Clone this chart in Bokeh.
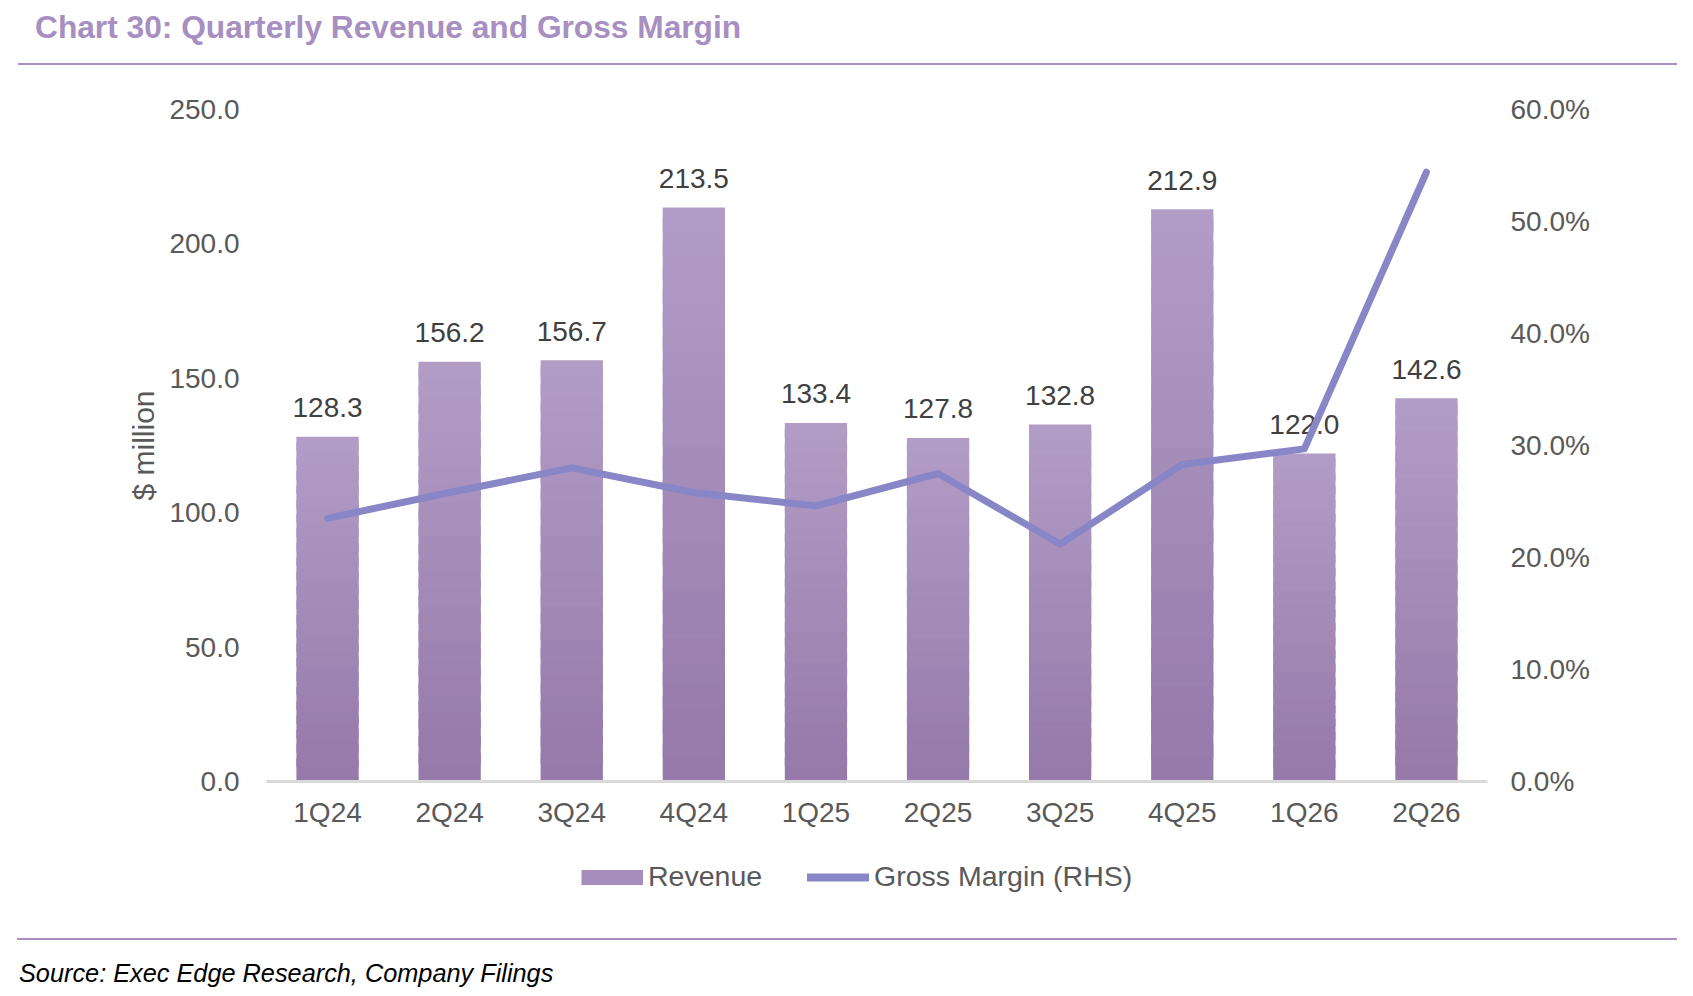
from bokeh.plotting import figure
from bokeh.models import (Range1d, LinearAxis, FixedTicker, PrintfTickFormatter,
                          NumeralTickFormatter, ColumnDataSource, Legend, LegendItem, Div)
from bokeh.layouts import column
from bokeh.core.properties import value
from bokeh.embed import file_html
from bokeh.resources import INLINE

# ---------------- data ----------------
categories = ["1Q24", "2Q24", "3Q24", "4Q24", "1Q25", "2Q25", "3Q25", "4Q25", "1Q26", "2Q26"]
revenue = [128.3, 156.2, 156.7, 213.5, 133.4, 127.8, 132.8, 212.9, 122.0, 142.6]
gross_margin = [23.5, 25.8, 28.0, 25.8, 24.6, 27.5, 21.2, 28.3, 29.7, 54.4]
revenue_ticks = [0, 50, 100, 150, 200, 250]
margin_ticks = [0, 10, 20, 30, 40, 50, 60]
series_names = ["Revenue", "Gross Margin (RHS)"]

title_text = "Chart 30: Quarterly Revenue and Gross Margin"
source_text = "Source: Exec Edge Research, Company Filings"

FONT = "Liberation Sans"
PURPLE = "#a78fc1"
LINE_COLOR = "#8886c7"
TICK_COLOR = "#595959"
LABEL_COLOR = "#404040"
BAR_MID = "#a68dbc"
TOP_RGB = (0xb2, 0x9d, 0xc6)
BOT_RGB = (0x95, 0x79, 0xa9)

W = 1677
HEADER_H = 65
FIG_H = 780
LEG_H = 93
FOOTER_H = 50

# ---------------- header ----------------
header = Div(width=W, height=HEADER_H, margin=0, text=(
    f'<div style="position:relative;width:{W}px;height:{HEADER_H}px;">'
    f'<div style="position:absolute;left:35px;top:11px;font-family:\'{FONT}\';font-weight:bold;'
    f'font-size:31.7px;line-height:32px;color:{PURPLE};white-space:nowrap;">{title_text}</div>'
    f'<div style="position:absolute;left:18px;top:63px;width:{W-18}px;height:2px;background:{PURPLE};"></div>'
    '</div>'))

# ---------------- chart ----------------
p = figure(width=W, height=FIG_H, x_range=categories, y_range=Range1d(0, 250),
           output_backend="svg", toolbar_location=None, margin=0,
           min_border_top=44, min_border_left=266, min_border_right=W - 1487,
           min_border_bottom=FIG_H - 716)
p.outline_line_color = None
p.xgrid.grid_line_color = None
p.ygrid.grid_line_color = None
p.background_fill_color = "white"
p.border_fill_color = "white"
p.extra_y_ranges = {"gm": Range1d(0, 60)}

# gradient bars built from overlapping slices of each revenue value
n_slices = 24
xs, bottoms, tops, colors = [], [], [], []
for k in range(n_slices):
    t = (k + 0.5) / n_slices
    rgb = tuple(int(round(BOT_RGB[c] + (TOP_RGB[c] - BOT_RGB[c]) * t)) for c in range(3))
    col = "#%02x%02x%02x" % rgb
    for cat, v in zip(categories, revenue):
        xs.append(cat)
        bottoms.append(v * k / n_slices)
        tops.append(v * min(k + 1.6, n_slices) / n_slices)
        colors.append(col)
bar_src = ColumnDataSource(dict(x=xs, bottom=bottoms, top=tops, color=colors))
p.vbar(x="x", bottom="bottom", top="top", width=0.51, source=bar_src,
       fill_color="color", line_color=None)

# data labels
lab_src = ColumnDataSource(dict(x=categories, y=revenue, t=["%.1f" % v for v in revenue]))
p.text(x="x", y="y", text="t", source=lab_src, text_align="center", text_baseline="middle",
       y_offset=-29, text_font=value(FONT), text_font_size="28px", text_color=LABEL_COLOR)

# gross margin line
p.line(x=categories, y=gross_margin, y_range_name="gm", line_width=7,
       line_color=LINE_COLOR, line_join="round", line_cap="round")

# axes
ya = p.yaxis[0]
ya.ticker = FixedTicker(ticks=revenue_ticks)
ya.formatter = NumeralTickFormatter(format="0.0")
ya.axis_line_color = None
ya.major_tick_line_color = None
ya.minor_tick_line_color = None
ya.major_label_standoff = 21
ya.major_label_text_font = FONT
ya.major_label_text_font_size = "28px"
ya.major_label_text_color = TICK_COLOR
ya.axis_label = "$ million"
ya.axis_label_text_font = FONT
ya.axis_label_text_font_size = "30px"
ya.axis_label_text_font_style = "normal"
ya.axis_label_text_color = TICK_COLOR
ya.axis_label_standoff = 6

ra = LinearAxis(y_range_name="gm", ticker=FixedTicker(ticks=margin_ticks),
                formatter=PrintfTickFormatter(format="%.1f%%"))
ra.axis_line_color = None
ra.major_tick_line_color = None
ra.minor_tick_line_color = None
ra.major_label_standoff = 17
ra.major_label_text_font = FONT
ra.major_label_text_font_size = "28px"
ra.major_label_text_color = TICK_COLOR
p.add_layout(ra, "right")

xa = p.xaxis[0]
xa.axis_line_color = "#d9d9d9"
xa.axis_line_width = 3
xa.major_tick_line_color = None
xa.minor_tick_line_color = None
xa.major_label_standoff = 9
xa.major_label_text_font = FONT
xa.major_label_text_font_size = "28px"
xa.major_label_text_color = TICK_COLOR

# ---------------- legend strip ----------------
lg = figure(width=W, height=LEG_H, x_range=Range1d(0, 1), y_range=Range1d(0, 1),
            x_axis_type=None, y_axis_type=None, output_backend="svg", toolbar_location=None,
            margin=0, min_border=0)
lg.outline_line_color = None
lg.xgrid.grid_line_color = None
lg.ygrid.grid_line_color = None
# proxy renderers for the legend keys only (hidden)
lg_bar = lg.line(x=[0, 1], y=[0.5, 0.5], line_width=15, line_color=BAR_MID,
                 line_cap="butt", visible=False)
lg_line = lg.line(x=[0, 1], y=[0.5, 0.5], line_width=8, line_color=LINE_COLOR,
                  line_cap="round", visible=False)
legend = Legend(items=[
    LegendItem(label=series_names[0], renderers=[lg_bar]),
    LegendItem(label=series_names[1], renderers=[lg_line]),
], orientation="horizontal", location=(315, 45))
legend.glyph_width = 62
legend.glyph_height = 16
legend.label_standoff = 5
legend.spacing = 45
legend.padding = 0
legend.margin = 0
legend.border_line_color = None
legend.background_fill_alpha = 0
legend.inactive_fill_alpha = 0
legend.click_policy = "none"
legend.label_text_font = FONT
legend.label_text_font_size = "28.5px"
legend.label_text_color = TICK_COLOR
lg.add_layout(legend, "center")

# ---------------- footer ----------------
footer = Div(width=W, height=FOOTER_H, margin=0, text=(
    f'<div style="position:relative;width:{W}px;height:{FOOTER_H}px;">'
    f'<div style="position:absolute;left:17px;top:0px;width:{W-17}px;height:2px;background:{PURPLE};"></div>'
    f'<div style="position:absolute;left:19px;top:22px;font-family:\'{FONT}\';font-style:italic;'
    f'font-size:25.3px;line-height:26px;color:#000000;white-space:nowrap;">{source_text}</div>'
    '</div>'))

layout = column(header, p, lg, footer, spacing=0)

with open("out.html", "w") as f:
    f.write(file_html(layout, INLINE))
